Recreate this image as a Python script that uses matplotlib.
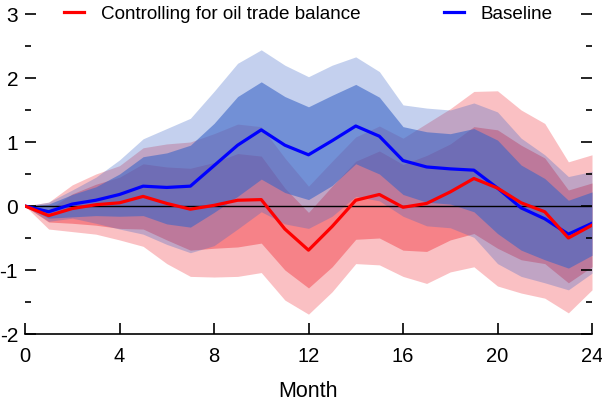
import numpy as np
import matplotlib.pyplot as plt
from matplotlib.transforms import ScaledTranslation

months = np.arange(25)

# impulse responses (point estimates)
baseline = [0.00, -0.09, 0.03, 0.09, 0.18, 0.31, 0.29, 0.31, 0.63, 0.95, 1.19, 0.95, 0.80,
            1.02, 1.25, 1.09, 0.71, 0.61, 0.58, 0.56, 0.28, -0.03, -0.20, -0.44, -0.27]
oil = [0.00, -0.15, -0.04, 0.02, 0.05, 0.15, 0.04, -0.05, 0.01, 0.09, 0.10, -0.36, -0.69,
       -0.32, 0.09, 0.18, -0.02, 0.04, 0.22, 0.43, 0.28, 0.05, -0.09, -0.50, -0.30]

# confidence bands, wide and narrow
base_hi90 = [0.00, 0.06, 0.25, 0.45, 0.72, 1.05, 1.21, 1.37, 1.79, 2.23, 2.44, 2.20, 2.02,
             2.20, 2.33, 2.10, 1.58, 1.53, 1.50, 1.61, 1.47, 1.06, 0.80, 0.46, 0.54]
base_lo90 = [0.00, -0.24, -0.19, -0.27, -0.36, -0.44, -0.60, -0.73, -0.62, -0.36, -0.09, -0.28, -0.35,
             -0.16, 0.15, 0.08, -0.16, -0.31, -0.34, -0.49, -0.90, -1.10, -1.20, -1.31, -1.05]
base_hi68 = [0.00, 0.03, 0.18, 0.30, 0.50, 0.77, 0.83, 0.95, 1.29, 1.71, 1.94, 1.71, 1.55,
             1.73, 1.90, 1.70, 1.24, 1.16, 1.13, 1.21, 1.03, 0.64, 0.43, 0.09, 0.22]
base_lo68 = [0.00, -0.19, -0.17, -0.15, -0.16, -0.15, -0.28, -0.33, -0.10, 0.15, 0.42, 0.21, 0.10,
             0.32, 0.66, 0.50, 0.18, 0.06, 0.03, -0.09, -0.43, -0.69, -0.84, -0.97, -0.77]

oil_hi90 = [0.00, 0.06, 0.33, 0.50, 0.63, 0.91, 0.97, 1.00, 1.13, 1.28, 1.24, 0.75, 0.31,
            0.70, 1.08, 1.25, 1.06, 1.29, 1.52, 1.79, 1.80, 1.50, 1.29, 0.69, 0.80]
oil_lo90 = [0.00, -0.36, -0.40, -0.44, -0.53, -0.63, -0.90, -1.10, -1.11, -1.10, -1.04, -1.47, -1.69,
            -1.34, -0.90, -0.92, -1.10, -1.21, -1.03, -0.95, -1.25, -1.36, -1.44, -1.67, -1.31]
oil_hi68 = [0.00, -0.05, 0.19, 0.34, 0.45, 0.66, 0.61, 0.59, 0.68, 0.82, 0.78, 0.28, -0.10,
            0.31, 0.70, 0.86, 0.65, 0.79, 0.97, 1.24, 1.19, 0.95, 0.75, 0.25, 0.36]
oil_lo68 = [0.00, -0.25, -0.27, -0.30, -0.35, -0.36, -0.53, -0.69, -0.66, -0.64, -0.58, -1.00, -1.28,
            -0.95, -0.52, -0.50, -0.69, -0.71, -0.53, -0.43, -0.66, -0.84, -0.90, -1.20, -0.95]

red_band = (240/255, 30/255, 40/255)
blue_band = (60/255, 102/255, 199/255)

font = ['Liberation Sans', 'DejaVu Sans']

fig = plt.figure(figsize=(6.02, 4.04), dpi=100)
ax = fig.add_axes([25/602, 70/404, 567/602, 320/404])

ax.fill_between(months, oil_lo90, oil_hi90, color=red_band, alpha=0.28, lw=0)
ax.fill_between(months, oil_lo68, oil_hi68, color=red_band, alpha=0.38, lw=0)
ax.fill_between(months, base_lo90, base_hi90, color=blue_band, alpha=0.30, lw=0)
ax.fill_between(months, base_lo68, base_hi68, color=blue_band, alpha=0.60, lw=0)

ax.axhline(0, color='black', lw=1)
ax.plot(months, baseline, color='#0000ff', lw=2.3, label='Baseline')
ax.plot(months, oil, color='#ff0000', lw=2.3, label='Controlling for oil trade balance')

ax.set_xlim(0, 24)
ax.set_ylim(-2, 3)
ax.set_xticks(np.arange(0, 25, 4))
ax.set_yticks(np.arange(-2, 4, 1))
ax.set_yticks(np.arange(-1.5, 3, 1), minor=True)
ax.set_yticklabels([str(v) for v in range(-2, 4)], family=font, fontsize=15)
ax.set_xticklabels([str(v) for v in range(0, 25, 4)], family=font, fontsize=14.5)

# keep the last month label inside the figure
last = ax.get_xticklabels()[-1]
last.set_transform(last.get_transform() + ScaledTranslation(-3/100, 0, fig.dpi_scale_trans))

for s in ['top', 'left', 'right']:
    ax.spines[s].set_visible(False)
ax.spines['bottom'].set_linewidth(1.2)
ax.tick_params(axis='x', direction='in', length=8, width=1.2, pad=9)
ax.tick_params(axis='y', which='major', direction='in', length=8, width=1.2, right=True, pad=5)
ax.tick_params(axis='y', which='minor', direction='in', length=4, width=1.2, right=True)

ax.set_xlabel('Month', family=font, fontsize=15.5, labelpad=11)

handles, labels = ax.get_legend_handles_labels()
ax.legend(handles[::-1], labels[::-1], loc='center', bbox_to_anchor=(0.5, 1.0), ncol=2,
          frameon=False, handlelength=1.06, handletextpad=0.9, columnspacing=4.4,
          prop={'family': font, 'size': 13.6})

fig.savefig('out.png', dpi=100)
